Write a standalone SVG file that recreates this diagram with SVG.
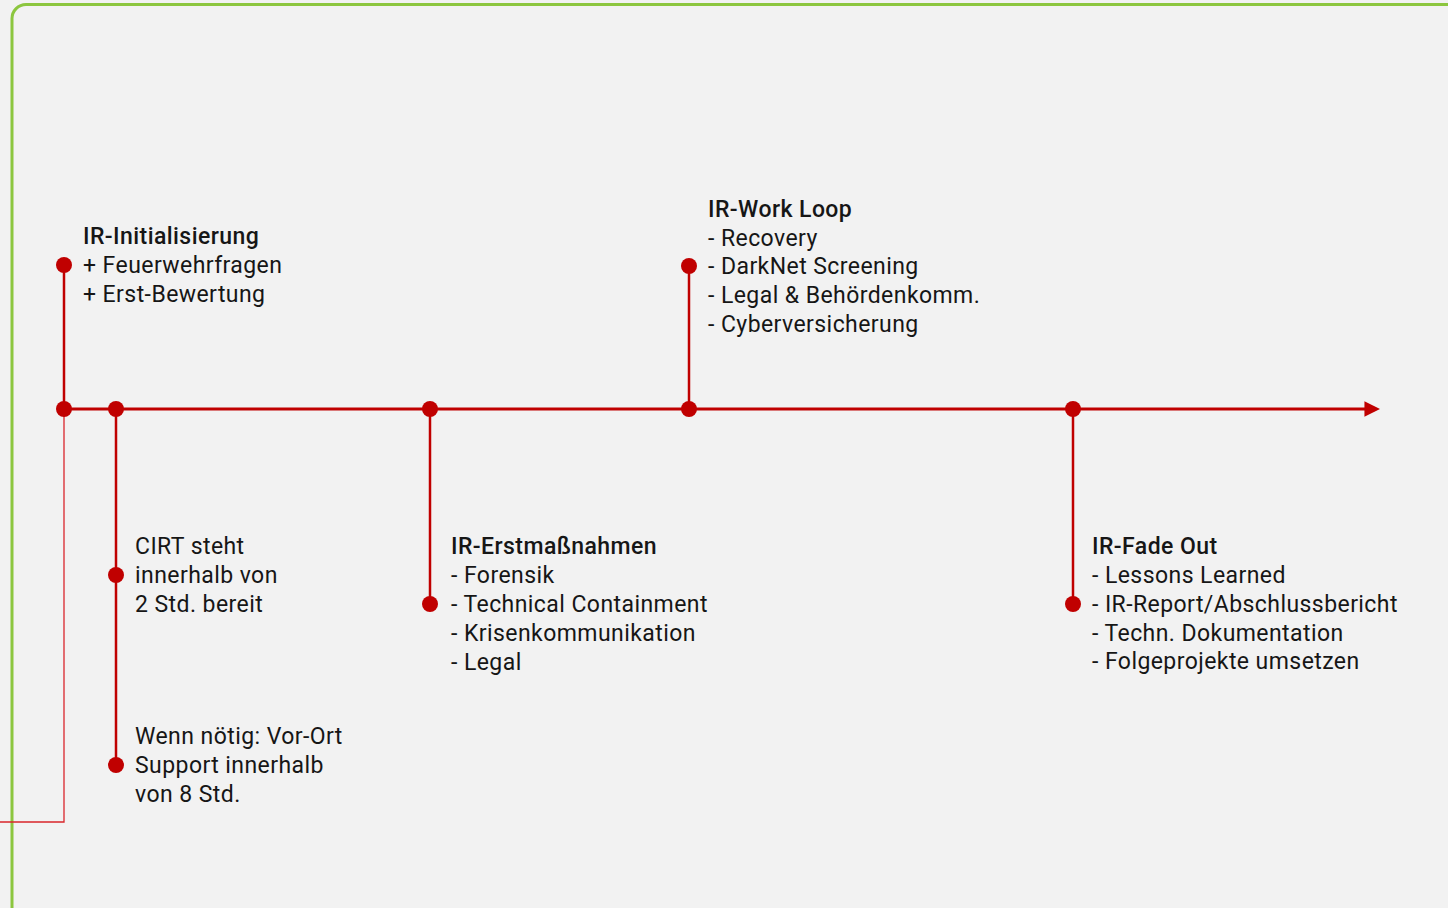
<svg xmlns="http://www.w3.org/2000/svg" width="1448" height="908" viewBox="0 0 1448 908">
  <defs>
    <style>
      .bg { fill: #f2f2f2; }
      .frame { fill: none; stroke: #8cc63f; stroke-width: 3; }
      .axis { stroke: #c00000; stroke-width: 3; fill: none; }
      .stem { stroke: #c00000; stroke-width: 2.5; fill: none; }
      .guide { stroke: #d9262b; stroke-width: 1.3; fill: none; }
      .dot { fill: #c00000; }
      .lbl { font-family: Roboto, "Liberation Sans", sans-serif; font-size: 23px; letter-spacing: 0.43px; fill: #161616; }
      .hd { font-weight: 500; }
    </style>
    <marker id="arrow" viewBox="0 0 10 10" refX="1" refY="5" markerWidth="5.2" markerHeight="5.2" markerUnits="strokeWidth" orient="auto">
      <path d="M0,0 L10,5 L0,10 Z" fill="#c00000"/>
    </marker>
  </defs>

  <rect class="bg" x="0" y="0" width="1448" height="908"/>
  <rect class="frame" x="12" y="4.5" width="1460" height="920" rx="14"/>

  <!-- timeline and stems -->
  <g id="connectors">
    <path class="guide" d="M64,409 V822 H0"/>
    <line class="axis" x1="64" y1="409" x2="1366" y2="409" marker-end="url(#arrow)"/>
    <line class="stem" x1="64" y1="265" x2="64" y2="409"/>
    <line class="stem" x1="116" y1="409" x2="116" y2="765"/>
    <line class="stem" x1="430" y1="409" x2="430" y2="604"/>
    <line class="stem" x1="689" y1="266" x2="689" y2="409"/>
    <line class="stem" x1="1073" y1="409" x2="1073" y2="604"/>
  </g>

  <g id="axis-points">
    <circle class="dot" cx="64" cy="409" r="8"/>
    <circle class="dot" cx="116" cy="409" r="8"/>
    <circle class="dot" cx="430" cy="409" r="8"/>
    <circle class="dot" cx="689" cy="409" r="8"/>
    <circle class="dot" cx="1073" cy="409" r="8"/>
  </g>

  <g id="ir-initialisierung">
    <circle class="dot" cx="64" cy="265" r="8"/>
    <text class="lbl">
      <tspan class="hd" x="83" y="244">IR-Initialisierung</tspan>
      <tspan x="83" y="273">+ Feuerwehrfragen</tspan>
      <tspan x="83" y="302">+ Erst-Bewertung</tspan>
    </text>
  </g>

  <g id="cirt-bereit">
    <circle class="dot" cx="116" cy="575" r="8"/>
    <text class="lbl">
      <tspan x="135" y="554">CIRT steht</tspan>
      <tspan x="135" y="583">innerhalb von</tspan>
      <tspan x="135" y="612">2 Std. bereit</tspan>
    </text>
  </g>

  <g id="vor-ort-support">
    <circle class="dot" cx="116" cy="765" r="8"/>
    <text class="lbl">
      <tspan x="135" y="744">Wenn nötig: Vor-Ort</tspan>
      <tspan x="135" y="773">Support innerhalb</tspan>
      <tspan x="135" y="802">von 8 Std.</tspan>
    </text>
  </g>

  <g id="ir-erstmassnahmen">
    <circle class="dot" cx="430" cy="604" r="8"/>
    <text class="lbl">
      <tspan class="hd" x="451" y="554">IR-Erstmaßnahmen</tspan>
      <tspan x="451" y="583">- Forensik</tspan>
      <tspan x="451" y="612">- Technical Containment</tspan>
      <tspan x="451" y="641">- Krisenkommunikation</tspan>
      <tspan x="451" y="670">- Legal</tspan>
    </text>
  </g>

  <g id="ir-work-loop">
    <circle class="dot" cx="689" cy="266" r="8"/>
    <text class="lbl">
      <tspan class="hd" x="708" y="217">IR-Work Loop</tspan>
      <tspan x="708" y="246">- Recovery</tspan>
      <tspan x="708" y="274">- DarkNet Screening</tspan>
      <tspan x="708" y="303">- Legal &amp; Behördenkomm.</tspan>
      <tspan x="708" y="332">- Cyberversicherung</tspan>
    </text>
  </g>

  <g id="ir-fade-out">
    <circle class="dot" cx="1073" cy="604" r="8"/>
    <text class="lbl">
      <tspan class="hd" x="1092" y="554">IR-Fade Out</tspan>
      <tspan x="1092" y="583">- Lessons Learned</tspan>
      <tspan x="1092" y="612">- IR-Report/Abschlussbericht</tspan>
      <tspan x="1092" y="641">- Techn. Dokumentation</tspan>
      <tspan x="1092" y="669">- Folgeprojekte umsetzen</tspan>
    </text>
  </g>
</svg>
